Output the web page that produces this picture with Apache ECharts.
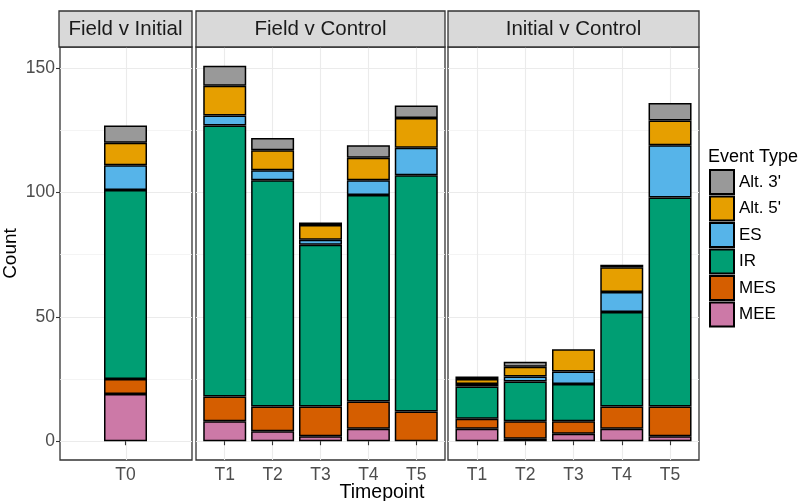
<!DOCTYPE html>
<html>
<head>
<meta charset="utf-8">
<script src="https://cdn.jsdelivr.net/npm/echarts@6/dist/echarts.min.js"></script>
<style>
  html, body { margin: 0; padding: 0; background: #ffffff; }
  #chart { width: 803px; height: 501px; }
</style>
</head>
<body>
<div id="chart"></div>
<script>
// Facets and their timepoints
const comparisons = ["Field v Initial", "Field v Control", "Initial v Control"];
const timepointsFieldInitial = ["T0"];
const timepointsFieldControl = ["T1", "T2", "T3", "T4", "T5"];
const timepointsInitialControl = ["T1", "T2", "T3", "T4", "T5"];

// Event types, legend order (top of stack first)
const eventTypes = ["Alt. 3'", "Alt. 5'", "ES", "IR", "MES", "MEE"];

// Counts per event type, columns: [Field v Initial T0 | Field v Control T1..T5 | Initial v Control T1..T5]
const alt3Counts = [7,   8,   5,  1,  5,  5,   1,  2,  0,  1,  7];
const alt5Counts = [9,   12,  8,  6,  9,  12,  2,  4,  9,  10, 10];
const esCounts   = [10,  4,   4,  2,  6,  11,  1,  2,  5,  8,  21];
const irCounts   = [76,  109, 91, 65, 83, 95,  13, 16, 15, 38, 84];
const mesCounts  = [6,   10,  10, 12, 11, 12,  4,  7,  5,  9,  12];
const meeCounts  = [19,  8,   4,  2,  5,  0,   5,  1,  3,  5,  2];

// Y axis tick labels and minor grid positions
const yTickValues = [0, 50, 100, 150];
const yMinorValues = [25, 75, 125];

// ---- styling / layout ----
const FONT = "'Liberation Sans', Arial, Helvetica, sans-serif";
const palette = {
  "Alt. 3'": "#999999",
  "Alt. 5'": "#E69F00",
  "ES": "#56B4E9",
  "IR": "#009E73",
  "MES": "#D55E00",
  "MEE": "#CC79A7"
};
const countsByType = {
  "Alt. 3'": alt3Counts,
  "Alt. 5'": alt5Counts,
  "ES": esCounts,
  "IR": irCounts,
  "MES": mesCounts,
  "MEE": meeCounts
};
const panelTimepoints = [timepointsFieldInitial, timepointsFieldControl, timepointsInitialControl];
const panelBoxes = [
  { left: 59,  width: 133 },
  { left: 196, width: 249 },
  { left: 448, width: 251 }
];
const PANEL_TOP = 47, PANEL_H = 413;
const STRIP_TOP = 11, STRIP_H = 36;
// ggplot-like scale expansion
const Y_MIN = -7.55, Y_MAX = 158.55;
const X_EXPAND = 0.6;

const grids = [], xAxes = [], yAxes = [], series = [], graphics = [];
let colOffset = 0;

panelTimepoints.forEach((cats, p) => {
  const box = panelBoxes[p];
  const n = cats.length;
  // pixel width of one category step on the expanded range [1 - 0.6, n + 0.6]
  const unit = box.width / (n - 1 + 2 * X_EXPAND);

  // background grid: panel frame + grid lines
  const bgGrid = grids.length;
  grids.push({
    left: box.left, top: PANEL_TOP, width: box.width, height: PANEL_H,
    show: true, backgroundColor: '#ffffff', borderColor: '#333333', borderWidth: 1.3, z: 0
  });
  xAxes.push({
    type: 'value', gridIndex: bgGrid, min: 1 - X_EXPAND, max: n + X_EXPAND,
    axisLine: { show: false }, axisLabel: { show: false },
    axisTick: { show: false, customValues: cats.map((c, i) => i + 1) },
    splitLine: { show: true, lineStyle: { color: '#EBEBEB', width: 1.1 } }
  });
  yAxes.push({
    type: 'value', gridIndex: bgGrid, min: Y_MIN, max: Y_MAX,
    axisLine: { show: false },
    axisTick: { show: p === 0, customValues: yTickValues, length: 4, lineStyle: { color: '#333333', width: 1.1 } },
    axisLabel: { show: p === 0, customValues: yTickValues, color: '#4D4D4D', fontSize: 17.5, fontFamily: FONT, margin: 5 },
    splitLine: { show: true, lineStyle: { color: '#EBEBEB', width: 1.1 } },
    name: p === 0 ? 'Count' : '', nameLocation: 'middle', nameGap: 40, nameRotate: 90,
    nameTextStyle: { color: '#000000', fontSize: 19, fontFamily: FONT }
  });
  yAxes.push({
    type: 'value', gridIndex: bgGrid, min: Y_MIN, max: Y_MAX,
    axisLine: { show: false }, axisLabel: { show: false },
    axisTick: { show: false, customValues: yMinorValues },
    splitLine: { show: true, lineStyle: { color: '#F1F1F1', width: 0.8 } }
  });

  // bar grid: one band per timepoint, aligned with the background grid lines
  const barGrid = grids.length;
  grids.push({
    left: box.left + (X_EXPAND - 0.5) * unit, top: PANEL_TOP, width: n * unit, height: PANEL_H, show: false
  });
  const barX = xAxes.length;
  xAxes.push({
    type: 'category', gridIndex: barGrid, data: cats, boundaryGap: true,
    axisLine: { show: false },
    axisTick: { show: true, alignWithLabel: true, length: 4, lineStyle: { color: '#333333', width: 1.1 } },
    axisLabel: { color: '#4D4D4D', fontSize: 17.5, fontFamily: FONT, margin: 6 },
    splitLine: { show: false }
  });
  const barY = yAxes.length;
  yAxes.push({
    type: 'value', gridIndex: barGrid, min: Y_MIN, max: Y_MAX, show: false,
    splitLine: { show: false }
  });

  // stacked bars, bottom to top
  eventTypes.slice().reverse().forEach(type => {
    const values = countsByType[type].slice(colOffset, colOffset + n);
    series.push({
      name: type, type: 'bar', stack: 'panel' + p,
      xAxisIndex: barX, yAxisIndex: barY,
      barWidth: 43,
      data: values.map(v => (v === 0 ? '-' : v)),
      itemStyle: { color: palette[type], borderColor: '#000000', borderWidth: 1.5 },
      emphasis: { disabled: true },
      z: 3
    });
  });

  // facet strip
  graphics.push({
    type: 'rect', z: 10,
    shape: { x: box.left, y: STRIP_TOP, width: box.width, height: STRIP_H },
    style: { fill: '#D9D9D9', stroke: '#333333', lineWidth: 1.3 }
  });
  graphics.push({
    type: 'text', z: 11,
    x: box.left + box.width / 2, y: STRIP_TOP + STRIP_H / 2,
    style: {
      text: comparisons[p], fill: '#1A1A1A', font: '20.5px ' + FONT,
      align: 'center', verticalAlign: 'middle'
    }
  });

  colOffset += n;
});

// shared x axis title
graphics.push({
  type: 'text', z: 11, x: 382, y: 493,
  style: { text: 'Timepoint', fill: '#000000', font: '19.5px ' + FONT, align: 'center', verticalAlign: 'middle' }
});
// legend title
graphics.push({
  type: 'text', z: 11, x: 708, y: 157,
  style: { text: 'Event Type', fill: '#000000', font: '18px ' + FONT, align: 'left', verticalAlign: 'middle' }
});

const chart = echarts.init(document.getElementById('chart'), null, { renderer: 'canvas' });
chart.setOption({
  animation: false,
  backgroundColor: '#ffffff',
  textStyle: { fontFamily: FONT },
  grid: grids,
  xAxis: xAxes,
  yAxis: yAxes,
  legend: {
    data: eventTypes, orient: 'vertical', left: 709, top: 169, padding: 0,
    itemWidth: 24, itemHeight: 24, itemGap: 0.5, icon: 'rect',
    selectedMode: false,
    textStyle: { color: '#000000', fontSize: 17, lineHeight: 24, fontFamily: FONT }
  },
  graphic: graphics,
  series: series
});
</script>
</body>
</html>
